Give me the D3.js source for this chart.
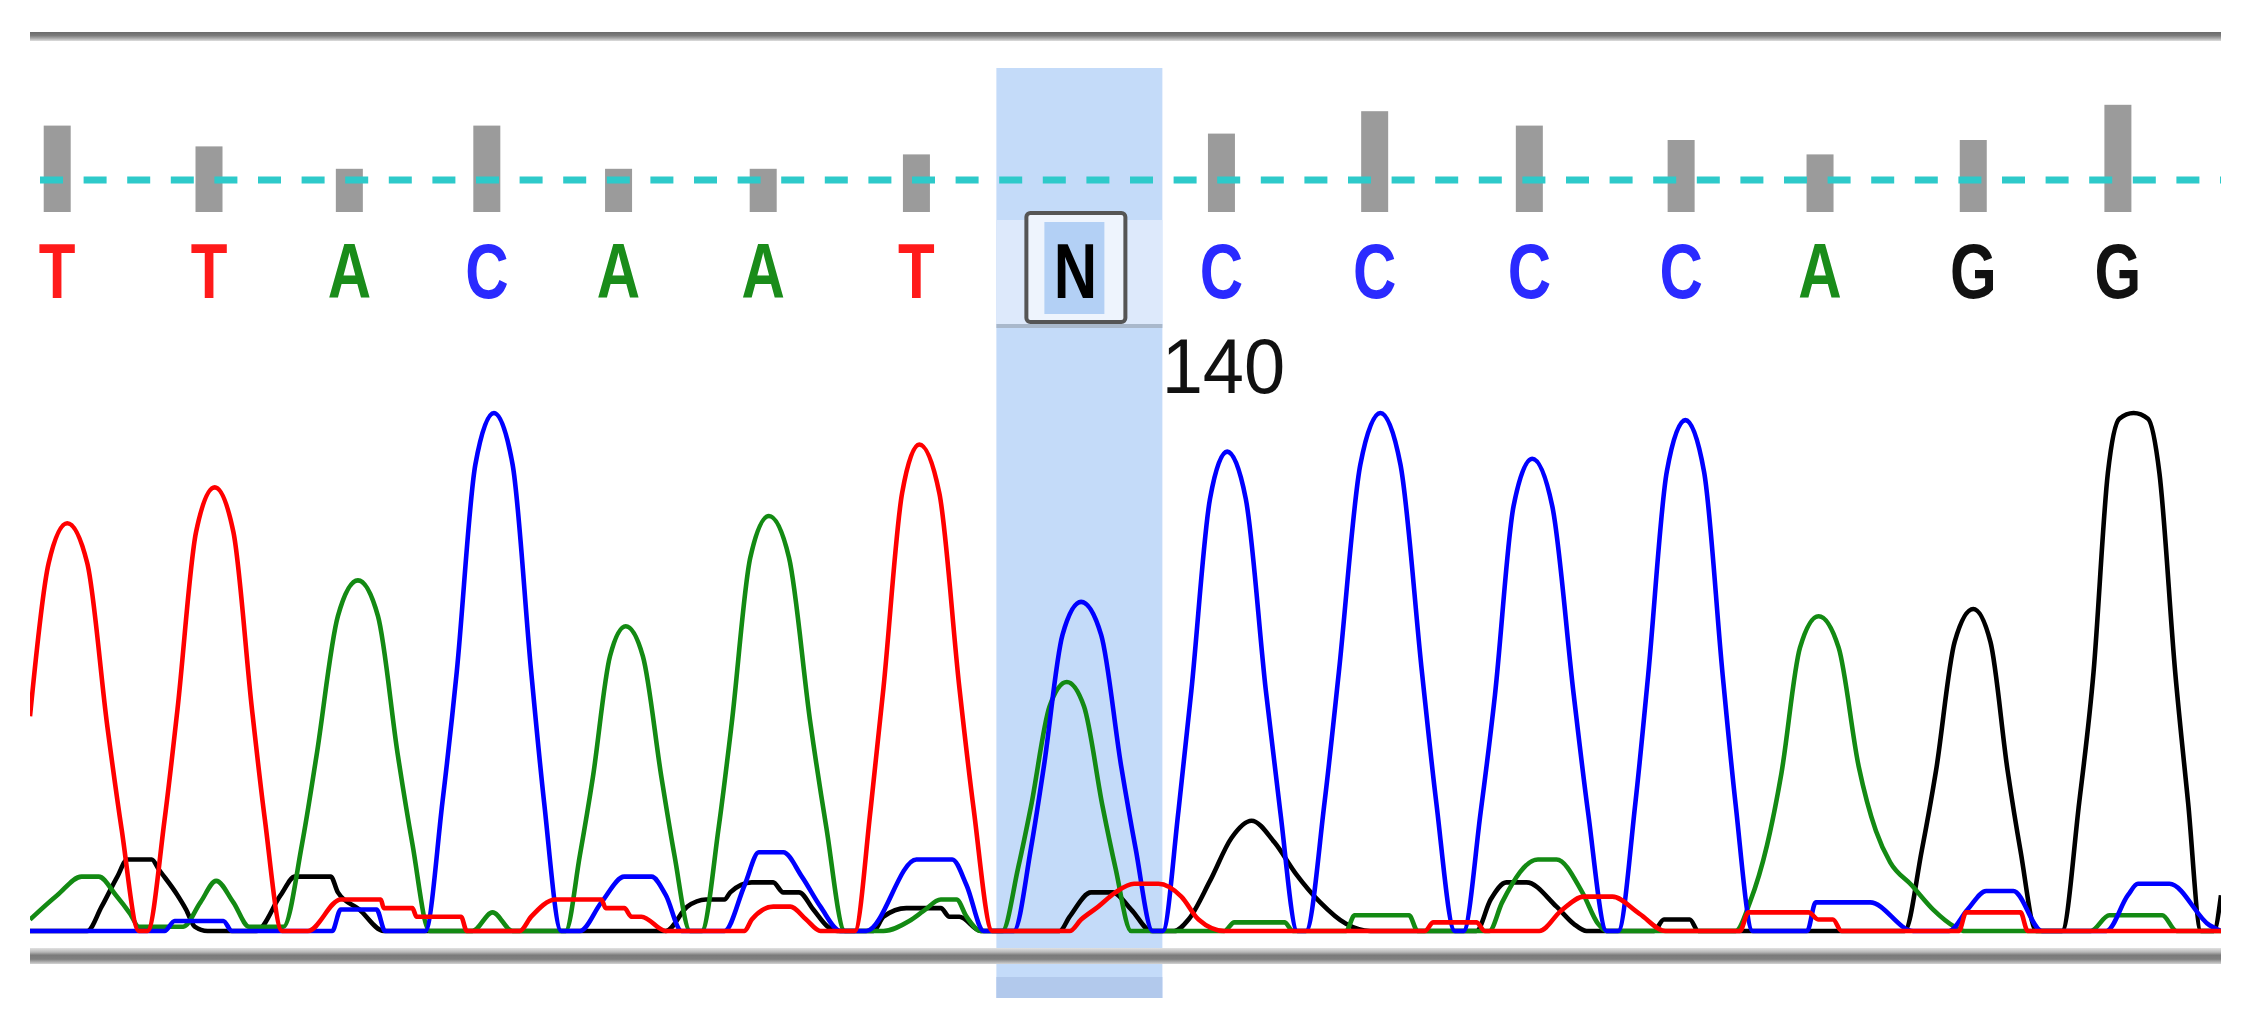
<!DOCTYPE html>
<html>
<head>
<meta charset="utf-8">
<script src="https://cdn.jsdelivr.net/npm/d3@7"></script>
<style>
  html, body { margin: 0; padding: 0; background: #ffffff; }
  svg { display: block; }
</style>
</head>
<body>
<svg id="chart" width="2245" height="1023"></svg>
<script>
// ---------------- DATA ----------------
// base calls and their positions (scan units)
const baseCalls     = ["T","T","A","C","A","A","T","N","C","C","C","C","A","G","G"];
const basePositions = [40, 146, 244, 340, 432, 533, 640, 751, 853, 960, 1068, 1174, 1271, 1378, 1479];
const qualityValues = [54, 41, 27, 54, 27, 27, 36, null, 49, 63, 54, 45, 36, 45, 67];
const qualityThreshold = 20;
const firstBaseNumber = 132;          // number of the first base shown
const selectedBaseIndex = 7;          // the highlighted "N"

// trace points: [scan, signal]
const traceT = [[21,150],[34,257],[47,285],[61,257],[75,143],[85,71],[97,0],[103,0],[115,78],[124,155],[137,279],[150,310],[163,279],[176,155],[185,78],[197,0],[215,0],[238,22],[266,22],[268,16],[288,16],[291,10],[322,10],[326,0],[363,0],[371,10],[388,22],[420,22],[423,16],[436,16],[441,10],[448,10],[465,0],[520,0],[525,8],[540,17],[552,17],[563,8],[573,0],[597,0],[608,85],[617,170],[630,306],[642,340],[656,306],[670,170],[680,85],[693,0],[747,0],[755,8],[767,17],[779,27],[792,33],[809,33],[825,24],[837,8],[855,0],[995,0],[1001,6],[1031,6],[1037,0],[1075,0],[1090,14],[1106,24],[1126,24],[1145,12],[1163,0],[1215,0],[1221,13],[1263,13],[1270,8],[1280,8],[1286,0],[1368,0],[1373,13],[1411,13],[1416,0],[1551,0]];
const traceA = [[21,8],[40,25],[57,38],[69,38],[81,25],[91,12],[97,3],[128,3],[140,20],[151,35],[163,20],[174,3],[198,3],[211,61],[221,122],[236,220],[250,245],[264,220],[278,122],[288,61],[300,0],[330,0],[344,13],[358,0],[395,0],[405,53],[414,107],[426,192],[437,213],[449,192],[462,107],[471,53],[482,0],[490,0],[502,73],[511,145],[524,261],[537,290],[551,261],[566,145],[577,73],[590,0],[617,0],[635,7],[645,14],[657,22],[668,22],[675,10],[685,0],[700,0],[711,44],[720,87],[733,157],[745,174],[757,157],[770,87],[779,44],[790,0],[855,0],[862,6],[897,6],[903,0],[940,0],[946,11],[984,11],[990,0],[1040,0],[1049,20],[1074,50],[1087,50],[1105,27],[1116,5],[1122,0],[1212,0],[1222,20],[1234,60],[1244,110],[1257,198],[1270,220],[1284,198],[1298,115],[1310,70],[1320,48],[1335,32],[1350,15],[1365,3],[1372,0],[1460,0],[1473,11],[1510,11],[1520,0],[1551,0]];
const traceC = [[21,0],[115,0],[122,7],[156,7],[162,0],[232,0],[238,15],[263,15],[269,0],[297,0],[309,90],[319,181],[332,326],[345,362],[358,326],[371,181],[380,90],[392,0],[405,0],[420,20],[436,38],[455,38],[465,25],[476,0],[506,0],[520,32],[530,55],[547,55],[560,38],[573,17],[587,0],[605,0],[640,50],[665,50],[675,32],[687,0],[708,0],[720,58],[729,115],[742,207],[755,230],[769,207],[783,115],[793,58],[805,0],[812,0],[823,84],[832,168],[845,302],[857,335],[870,302],[884,168],[894,84],[906,0],[912,0],[925,90],[935,181],[950,326],[964,362],[978,326],[993,181],[1003,90],[1016,0],[1022,0],[1034,83],[1044,165],[1057,297],[1070,330],[1084,297],[1099,165],[1109,83],[1122,0],[1130,0],[1142,89],[1151,179],[1164,321],[1177,357],[1190,321],[1203,179],[1212,89],[1224,0],[1262,0],[1268,20],[1306,20],[1336,0],[1361,0],[1374,15],[1387,28],[1406,28],[1426,0],[1471,0],[1486,25],[1493,33],[1515,33],[1543,4],[1551,0]];
const traceG = [[21,0],[61,0],[71,17],[82,38],[89,50],[106,50],[111,43],[124,25],[130,15],[136,3],[145,0],[179,0],[196,25],[206,38],[231,38],[236,27],[251,15],[268,0],[465,0],[480,17],[493,22],[506,22],[510,27],[525,34],[540,34],[547,27],[558,27],[568,15],[578,3],[585,0],[610,0],[617,10],[633,16],[657,16],[663,10],[670,10],[685,0],[740,0],[747,10],[762,27],[777,27],[790,15],[804,0],[820,0],[830,8],[845,35],[860,65],[874,77],[890,62],[905,40],[922,20],[940,5],[957,0],[1031,0],[1041,22],[1052,34],[1066,34],[1087,17],[1099,5],[1108,0],[1155,0],[1162,8],[1180,8],[1186,0],[1330,0],[1342,56],[1352,112],[1365,202],[1378,225],[1390,202],[1402,112],[1411,56],[1422,0],[1440,0],[1452,90],[1462,181],[1472,320],[1480,358],[1490,362],[1500,358],[1508,320],[1519,181],[1528,90],[1537,0],[1546,0],[1551,25]];

const traces = [
  {base: "G", points: traceG},
  {base: "A", points: traceA},
  {base: "C", points: traceC},
  {base: "T", points: traceT}
];
const baseColors = {A: "#138a13", C: "#0000ff", G: "#000000", T: "#ff0000", N: "#000000"};
const letterColors = {A: "#1a8c1a", C: "#2a2aff", G: "#111111", T: "#ff1a1a", N: "#000000"};

// ---------------- LAYOUT ----------------
const plotLeft = 30, plotRight = 2221;
const svg = d3.select("#chart");
const defs = svg.append("defs");

const x = d3.scaleLinear().domain([21, 1551]).range([plotLeft, plotRight]);
const y = d3.scaleLinear().domain([0, 362]).range([931, 413]);
const qh = d3.scaleLinear().domain([0, qualityThreshold]).range([0, 32]);
const barBottom = 212;

// gradients
const topGrad = defs.append("linearGradient").attr("id","topGrad").attr("x1",0).attr("x2",0).attr("y1",0).attr("y2",1);
[["0%","#6a6a6a"],["40%","#7c7c7c"],["70%","#a9a9a9"],["100%","#dedede"]].forEach(s=>topGrad.append("stop").attr("offset",s[0]).attr("stop-color",s[1]));
const botGrad = defs.append("linearGradient").attr("id","botGrad").attr("x1",0).attr("x2",0).attr("y1",0).attr("y2",1);
[["0%","#e2e2e2"],["25%","#b8b8b8"],["45%","#7a7a7a"],["70%","#808080"],["100%","#d4d4d4"]].forEach(s=>botGrad.append("stop").attr("offset",s[0]).attr("stop-color",s[1]));
defs.append("clipPath").attr("id","plotClip").append("rect")
  .attr("x", plotLeft).attr("y", 0).attr("width", plotRight - plotLeft).attr("height", 1023);

// highlight band for the selected base
const selX = x(basePositions[selectedBaseIndex]);
const band = svg.append("g");
band.append("rect").attr("x", selX - 79).attr("y", 68).attr("width", 166).attr("height", 930).attr("fill", "#c4dbf9");
band.append("rect").attr("x", selX - 79).attr("y", 220).attr("width", 166).attr("height", 106).attr("fill", "#dde9fb");
band.append("rect").attr("x", selX - 79).attr("y", 324).attr("width", 166).attr("height", 4).attr("fill", "#a9b8cb");
band.append("rect").attr("x", selX - 79).attr("y", 977).attr("width", 166).attr("height", 21).attr("fill", "#b2c9ec");

// top rule
svg.append("rect").attr("x", plotLeft).attr("y", 32).attr("width", plotRight - plotLeft).attr("height", 9).attr("fill", "url(#topGrad)");

// quality bars
svg.append("g").selectAll("rect")
  .data(basePositions.map((p,i)=>({p, q: qualityValues[i]})).filter(d => d.q !== null))
  .join("rect")
  .attr("x", d => x(d.p) - 13.5)
  .attr("width", 27)
  .attr("y", d => barBottom - qh(d.q))
  .attr("height", d => qh(d.q))
  .attr("fill", "#9b9b9b");

// quality threshold dashed line
svg.append("line")
  .attr("x1", 40).attr("x2", plotRight)
  .attr("y1", barBottom - qh(qualityThreshold)).attr("y2", barBottom - qh(qualityThreshold))
  .attr("stroke", "#2ecaca").attr("stroke-width", 7).attr("stroke-dasharray", "23 20.6");

// N box
svg.append("rect").attr("x", selX - 49).attr("y", 213).attr("width", 99).attr("height", 109).attr("rx", 4)
  .attr("fill", "#eef4fd").attr("stroke", "#555555").attr("stroke-width", 4);
svg.append("rect").attr("x", selX - 31).attr("y", 222).attr("width", 60).attr("height", 92).attr("fill", "#b3d0f5");

// base letters (narrow, as in the reference)
svg.append("g").selectAll("text")
  .data(baseCalls.map((b,i)=>({b, p: basePositions[i]})))
  .join("text")
  .attr("transform", d => `translate(${x(d.p)},298) scale(0.78,1)`)
  .attr("text-anchor", "middle")
  .attr("font-family", "'Liberation Sans', Arial, sans-serif")
  .attr("font-weight", "bold")
  .attr("font-size", 77)
  .attr("fill", d => letterColors[d.b])
  .text(d => d.b);

// base number labels
svg.append("g").selectAll("text")
  .data(baseCalls.map((b,i)=>({n: firstBaseNumber + i, p: basePositions[i]})).filter(d => d.n % 10 === 0))
  .join("text")
  .attr("transform", d => `translate(${x(d.p) + 2},393) scale(0.95,1)`)
  .attr("text-anchor", "middle")
  .attr("font-family", "'Liberation Sans', Arial, sans-serif")
  .attr("font-size", 78)
  .attr("fill", "#111111")
  .text(d => d.n);

// bottom rule
svg.append("rect").attr("x", plotLeft).attr("y", 948).attr("width", plotRight - plotLeft).attr("height", 16).attr("fill", "url(#botGrad)");

// traces
const line = d3.line().x(d => x(d[0])).y(d => y(d[1])).curve(d3.curveMonotoneX);
svg.append("g").attr("clip-path", "url(#plotClip)")
  .selectAll("path")
  .data(traces)
  .join("path")
  .attr("d", d => line(d.points))
  .attr("fill", "none")
  .attr("stroke", d => baseColors[d.base])
  .attr("stroke-width", 4.6)
  .attr("stroke-linejoin", "round");
</script>
</body>
</html>
